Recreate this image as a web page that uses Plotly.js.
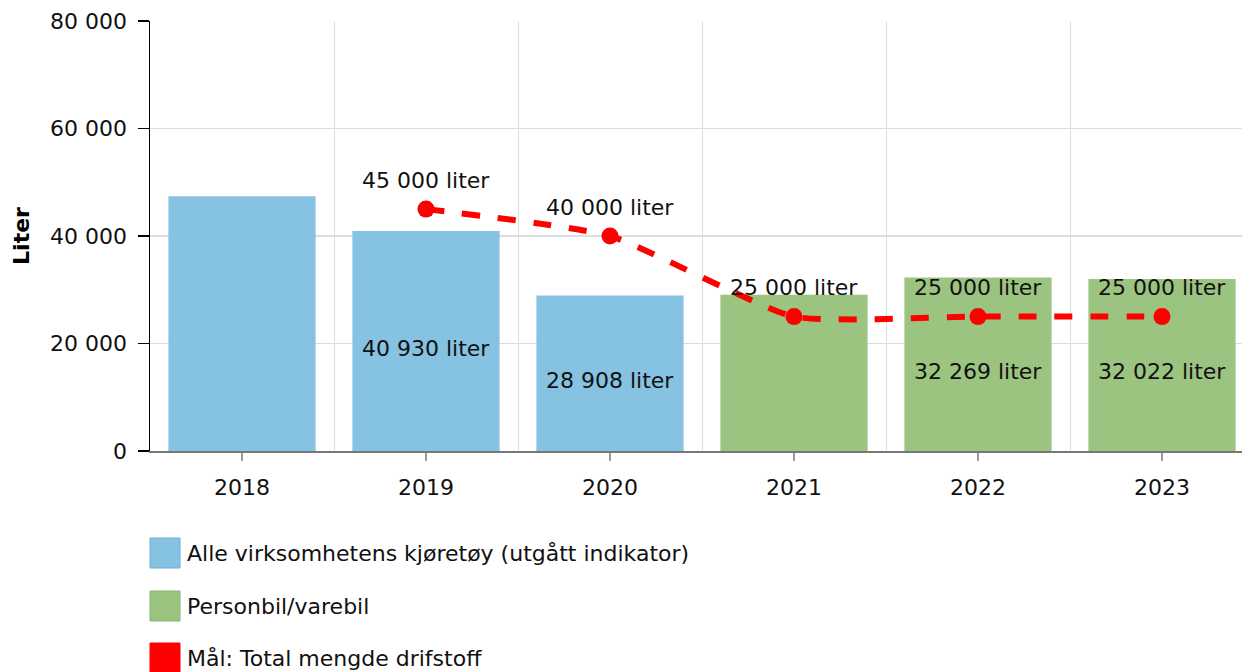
<!DOCTYPE html>
<html>
<head>
<meta charset="utf-8">
<script src="https://cdn.plot.ly/plotly-3.0.1.min.js"></script>
<style>
html, body { margin: 0; padding: 0; overflow: hidden; background: #fff; }
#chart { width: 1254px; height: 672px; }
</style>
</head>
<body>
<div id="chart"></div>
<script>
const years = ['2018', '2019', '2020', '2021', '2022', '2023'];
const alleValues = [47400, 40930, 28908, null, null, null];
const personbilValues = [null, null, null, 29050, 32269, 32022];
const targetValues = [null, 45000, 40000, 25000, 25000, 25000];
const barValueLabels = [null, '40 930 liter', '28 908 liter', null, '32 269 liter', '32 022 liter'];
const targetLabels = [null, '45 000 liter', '40 000 liter', '25 000 liter', '25 000 liter', '25 000 liter'];
const legendNames = ['Alle virksomhetens kjøretøy (utgått indikator)', 'Personbil/varebil', 'Mål: Total mengde drifstoff'];

const FONT = 'DejaVu Sans, Verdana, sans-serif';
const FS = 22;
const BLUE = 'rgb(134,194,226)';
const GREEN = 'rgb(156,196,129)';
const RED = '#ff0000';
const TXT = '#111';
const idx = years.map((_, i) => i);

// layout geometry helpers (pixels -> paper)
const L = 150, T = 21, W = 1104, H = 430;
const px = v => (v - L) / W;
const py = v => (T + H - v) / H;

const traces = [
  {
    type: 'bar', x: idx, y: alleValues, name: legendNames[0],
    marker: { color: BLUE }, hoverinfo: 'skip', showlegend: false
  },
  {
    type: 'bar', x: idx, y: personbilValues, name: legendNames[1],
    marker: { color: GREEN }, hoverinfo: 'skip', showlegend: false
  },
  {
    type: 'scatter', mode: 'lines+markers', x: idx, y: targetValues, name: legendNames[2],
    line: { color: RED, width: 6, dash: 'dash', shape: 'spline', smoothing: 0.5 },
    marker: { color: RED, size: 17 },
    hoverinfo: 'skip', showlegend: false, connectgaps: false
  }
];

const annotations = [];
barValueLabels.forEach((lab, i) => {
  if (!lab) return;
  const v = alleValues[i] != null ? alleValues[i] : personbilValues[i];
  annotations.push({
    x: i, y: v / 2, xref: 'x', yref: 'y', text: lab, showarrow: false,
    yshift: -7, font: { family: FONT, size: FS, color: TXT }
  });
});
targetLabels.forEach((lab, i) => {
  if (!lab) return;
  annotations.push({
    x: i, y: targetValues[i], xref: 'x', yref: 'y', text: lab, showarrow: false,
    yshift: 29, font: { family: FONT, size: FS, color: TXT }
  });
});

const legendColors = [BLUE, GREEN, RED];
const legendBorders = ['rgb(108,176,218)', 'rgb(136,184,108)', RED];
const legendY = [553, 606, 658];
const shapes = [];
legendNames.forEach((name, i) => {
  shapes.push({
    type: 'rect', xref: 'paper', yref: 'paper',
    x0: px(150), x1: px(180), y0: py(legendY[i] - 15), y1: py(legendY[i] + 15),
    fillcolor: legendColors[i], line: { color: legendBorders[i], width: 1 }
  });
  annotations.push({
    xref: 'paper', yref: 'paper', x: px(185), y: py(legendY[i]),
    xanchor: 'left', yanchor: 'middle', text: name, showarrow: false,
    font: { family: FONT, size: FS, color: TXT }
  });
});

const layout = {
  width: 1254, height: 672,
  margin: { l: L, r: 0, t: T, b: 672 - T - H },
  paper_bgcolor: '#fff', plot_bgcolor: '#fff',
  barmode: 'overlay', bargap: 0.2,
  separators: ', ',
  font: { family: FONT, size: FS, color: TXT },
  showlegend: false,
  xaxis: {
    range: [-0.5, 5.5], tickmode: 'array', tickvals: idx, ticktext: years,
    showgrid: false, zeroline: false,
    showline: true, linecolor: '#777', linewidth: 1.5,
    ticks: 'outside', ticklen: 8, tickcolor: '#999', tickwidth: 1.5,
    ticklabelstandoff: 8,
    tickfont: { family: FONT, size: FS, color: TXT },
    minor: { tickmode: 'array', tickvals: [0.5, 1.5, 2.5, 3.5, 4.5], showgrid: true, gridcolor: '#dddddd', gridwidth: 1, ticks: '' },
    fixedrange: true
  },
  yaxis: {
    range: [0, 80000], tickvals: [0, 20000, 40000, 60000, 80000], tickformat: ',d',
    showgrid: true, gridcolor: '#dddddd', gridwidth: 1.5, zeroline: false,
    showline: true, linecolor: '#000', linewidth: 1.5,
    ticks: 'outside', ticklen: 11, tickcolor: '#000', tickwidth: 1.5,
    ticklabelstandoff: 6,
    tickfont: { family: FONT, size: FS, color: TXT },
    title: { text: '<b>Liter</b>', font: { family: FONT, size: FS, color: '#000' }, standoff: 14 },
    fixedrange: true
  },
  annotations: annotations,
  shapes: shapes
};

Plotly.newPlot('chart', traces, layout, { displayModeBar: false, staticPlot: true });
</script>
</body>
</html>
